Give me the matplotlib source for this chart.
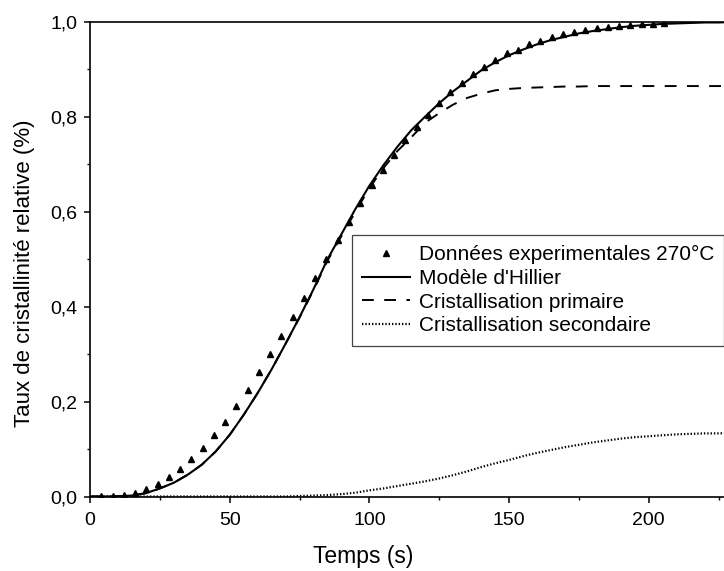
import matplotlib
matplotlib.use("Agg")
import matplotlib.pyplot as plt
from matplotlib.ticker import MultipleLocator, FuncFormatter

plt.rcParams['font.family'] = ['Liberation Sans', 'DejaVu Sans']
plt.rcParams['lines.scale_dashes'] = False

# Experimental data (triangles)
exp_time = [4.0, 8.1, 12.1, 16.1, 20.2, 24.2, 28.2, 32.2, 36.3, 40.3, 44.3, 48.4,
             52.4, 56.4, 60.5, 64.5, 68.5, 72.5, 76.6, 80.6, 84.6, 88.7, 92.7, 96.7,
             100.8, 104.8, 108.8, 112.8, 116.9, 120.9, 124.9, 129.0, 133.0, 137.0,
             141.1, 145.1, 149.1, 153.1, 157.2, 161.2, 165.2, 169.3, 173.3, 177.3,
             181.4, 185.4, 189.4, 193.4, 197.5, 201.5, 205.5]
exp_value = [0.001, 0.002, 0.004, 0.008, 0.015, 0.027, 0.041, 0.058, 0.079, 0.103,
             0.129, 0.158, 0.190, 0.225, 0.262, 0.300, 0.339, 0.379, 0.419, 0.460,
             0.500, 0.540, 0.578, 0.618, 0.656, 0.688, 0.719, 0.751, 0.779, 0.804,
             0.830, 0.853, 0.872, 0.890, 0.906, 0.920, 0.934, 0.942, 0.953, 0.961,
             0.969, 0.975, 0.979, 0.983, 0.987, 0.990, 0.992, 0.994, 0.995, 0.996,
             0.997]

# Model curves
curve_time = [0, 5, 10, 15, 20, 25, 30, 35, 40, 45, 50, 55, 60, 65, 70, 75, 80, 85,
              90, 95, 100, 105, 110, 115, 120, 125, 130, 135, 140, 145, 150, 155,
              160, 165, 170, 175, 180, 185, 190, 195, 200, 205, 210, 215, 220, 225, 230]
hillier = [0.0, 0.0, 0.0005, 0.002, 0.007, 0.017, 0.029, 0.046, 0.067, 0.095, 0.130,
           0.172, 0.218, 0.268, 0.322, 0.378, 0.437, 0.500, 0.553, 0.606, 0.655,
           0.698, 0.737, 0.772, 0.801, 0.829, 0.854, 0.876, 0.898, 0.915, 0.930,
           0.942, 0.953, 0.962, 0.969, 0.976, 0.981, 0.985, 0.989, 0.992, 0.994,
           0.996, 0.997, 0.998, 0.999, 0.999, 1.0]
primary = [0.0, 0.0, 0.0005, 0.002, 0.007, 0.017, 0.029, 0.046, 0.067, 0.095, 0.130,
           0.172, 0.218, 0.268, 0.322, 0.377, 0.435, 0.497, 0.549, 0.600, 0.650,
           0.692, 0.728, 0.757, 0.788, 0.808, 0.826, 0.840, 0.849, 0.856, 0.859,
           0.861, 0.862, 0.863, 0.864, 0.864, 0.865, 0.865, 0.865, 0.865, 0.865,
           0.865, 0.865, 0.865, 0.865, 0.865, 0.865]
secondary = [0.0, 0.0, 0.0, 0.0, 0.0, 0.0, 0.0, 0.0, 0.0, 0.0, 0.0, 0.0, 0.0, 0.0,
             0.0, 0.001, 0.002, 0.003, 0.005, 0.008, 0.013, 0.017, 0.022, 0.027,
             0.032, 0.038, 0.045, 0.053, 0.062, 0.070, 0.077, 0.085, 0.092, 0.098,
             0.104, 0.109, 0.114, 0.118, 0.122, 0.125, 0.127, 0.129, 0.131, 0.132,
             0.133, 0.133, 0.134]

labels = ["Données experimentales 270°C", "Modèle d'Hillier",
          "Cristallisation primaire", "Cristallisation secondaire"]

W, H = 724, 571
fig = plt.figure(figsize=(W / 100, H / 100), dpi=100)
ax_w = W - 90
ax_h = 474.5
ax = fig.add_axes([90 / W, (H - 496.5) / H, ax_w / W, ax_h / H])

ax.plot(exp_time, exp_value, linestyle='none', marker='^', markersize=4.2,
        color='black', label=labels[0])
ax.plot(curve_time, hillier, '-', color='black', lw=1.5, label=labels[1])
ax.plot(curve_time, primary, color='black', lw=1.4, dashes=(8.5, 7.5), label=labels[2])
ax.plot(curve_time, secondary, color='black', lw=1.6, dashes=(1.0, 1.4), label=labels[3])

ax.set_xlim(0, ax_w / 2.794)
ax.set_ylim(0, 1.0)
ax.xaxis.set_major_locator(MultipleLocator(50))
ax.xaxis.set_minor_locator(MultipleLocator(25))
ax.yaxis.set_major_locator(MultipleLocator(0.2))
ax.yaxis.set_minor_locator(MultipleLocator(0.1))
ax.yaxis.set_major_formatter(FuncFormatter(lambda v, p: f"{v:.1f}".replace('.', ',')))

for s in ['left', 'bottom', 'top']:
    ax.spines[s].set_linewidth(1.2)
ax.spines['right'].set_visible(False)

ax.tick_params(which='major', direction='out', length=4, width=1.1, labelsize=14, pad=5)
ax.tick_params(which='minor', direction='out', length=2.5, width=1.0)
ax.tick_params(axis='x', which='major', pad=7)

ax.set_xlabel("Temps (s)", fontsize=16.5)
ax.set_ylabel("Taux de cristallinité relative (%)", fontsize=16)
ax.xaxis.set_label_coords((363 - 90) / ax_w, -(557 - 496.5) / ax_h)
ax.yaxis.set_label_coords(-(90 - 25) / ax_w, (496.5 - 273) / ax_h)
ax.xaxis.label.set_va('center')
ax.yaxis.label.set_va('center')

leg = ax.legend(loc='upper left', bbox_to_anchor=(352 / W, 1 - 235 / H),
                bbox_transform=fig.transFigure, fontsize=15, frameon=True,
                fancybox=False, framealpha=1, edgecolor='#444444', numpoints=1,
                handlelength=2.3, handletextpad=0.4, labelspacing=0.22,
                borderpad=0.5, borderaxespad=0)
leg.get_frame().set_linewidth(0.9)

fig.savefig("out.png", dpi=100, facecolor='white')
